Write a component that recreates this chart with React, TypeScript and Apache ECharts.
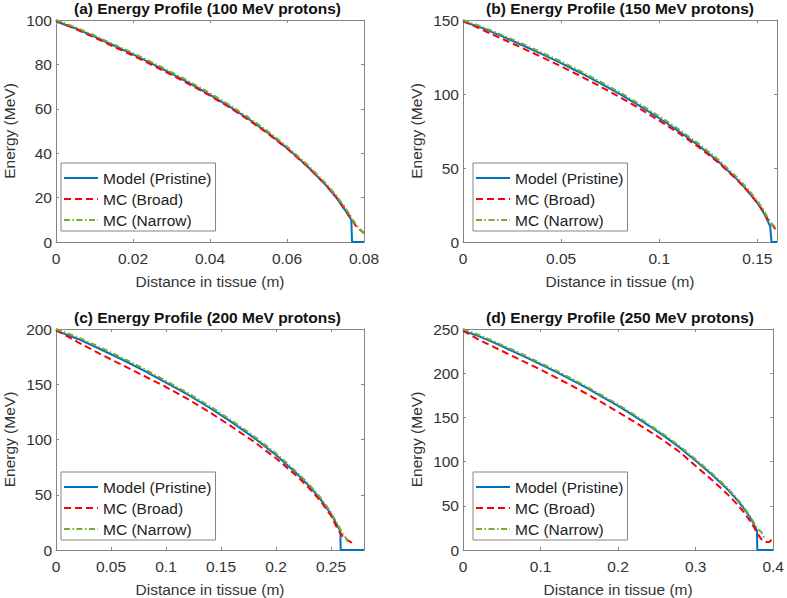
import React, { useEffect, useRef } from "react";
import * as echarts from "echarts";

const PANEL_TITLES = [
  "(a) Energy Profile (100 MeV protons)",
  "(b) Energy Profile (150 MeV protons)",
  "(c) Energy Profile (200 MeV protons)",
  "(d) Energy Profile (250 MeV protons)",
];
const SERIES_NAMES = ["Model (Pristine)", "MC (Broad)", "MC (Narrow)"];
const X_MAX = [0.08, 0.16, 0.28, 0.4];
const X_INTERVAL = [0.02, 0.05, 0.05, 0.1];
const Y_MAX = [100, 150, 200, 250];
const Y_INTERVAL = [20, 50, 50, 50];
const X_NAME = "Distance in tissue (m)";
const Y_NAME = "Energy (MeV)";

// (a) 100 MeV
const A_MODEL_X = [0, 0.005, 0.01, 0.015, 0.02, 0.025, 0.03, 0.035, 0.04, 0.045, 0.05, 0.055, 0.06, 0.065, 0.07, 0.073, 0.075, 0.0767, 0.0769, 0.08];
const A_MODEL_E = [99.3, 96.3, 92.5, 88.5, 84.5, 80.2, 75.8, 71.2, 66.3, 61.1, 55.4, 49.2, 42.3, 34.6, 25.8, 19.5, 14.5, 10.0, 0, 0];
const A_MC_X = [0, 0.005, 0.01, 0.015, 0.02, 0.025, 0.03, 0.035, 0.04, 0.045, 0.05, 0.055, 0.06, 0.065, 0.07, 0.073, 0.075, 0.0765, 0.078, 0.08];
const A_BROAD_E = [99.8, 96.0, 92.1, 88.0, 84.0, 79.7, 75.3, 70.7, 65.9, 60.7, 55.0, 48.9, 42.1, 34.5, 25.9, 19.9, 15.0, 11.0, 7.0, 4.0];
const A_NARROW_E = [100, 96.8, 93.0, 89.0, 85.1, 80.9, 76.5, 71.9, 67.0, 61.8, 56.1, 49.9, 43.0, 35.3, 26.6, 20.5, 15.7, 11.8, 7.5, 3.8];

// (b) 150 MeV
const B_MODEL_X = [0, 0.01, 0.02, 0.03, 0.04, 0.05, 0.06, 0.07, 0.08, 0.09, 0.1, 0.11, 0.12, 0.13, 0.14, 0.145, 0.15, 0.153, 0.155, 0.1565, 0.1572, 0.16];
const B_MODEL_E = [149, 144.5, 138.9, 133.1, 127.1, 120.9, 114.2, 107.2, 99.9, 92.0, 83.6, 74.8, 65.2, 54.5, 41.8, 34.5, 26.3, 20.2, 15.0, 10.5, 0, 0];
const B_MC_X = [0, 0.01, 0.02, 0.03, 0.04, 0.05, 0.06, 0.07, 0.08, 0.09, 0.1, 0.11, 0.12, 0.13, 0.14, 0.145, 0.15, 0.153, 0.155, 0.1575, 0.16];
const B_BROAD_E = [149.5, 143.2, 137.2, 131.2, 125.0, 118.7, 112.0, 105.0, 97.8, 90.2, 82.0, 73.5, 64.2, 53.8, 41.5, 34.5, 26.5, 21.0, 16.0, 11.5, 7.5];
const B_NARROW_E = [150, 145.3, 139.8, 134.1, 128.1, 122.0, 115.3, 108.3, 101.0, 93.2, 84.9, 76.1, 66.5, 55.8, 43.2, 36.0, 27.8, 21.8, 17.0, 12.0, 9.0];

// (c) 200 MeV
const C_MODEL_X = [0, 0.02, 0.04, 0.06, 0.08, 0.1, 0.12, 0.14, 0.16, 0.18, 0.2, 0.22, 0.23, 0.24, 0.25, 0.255, 0.2585, 0.2588, 0.28];
const C_MODEL_E = [198.5, 191, 181.9, 172.4, 162.4, 151.5, 140.5, 128.5, 115.5, 101.5, 86, 68, 58, 46.5, 32.5, 23.5, 17, 0, 0];
const C_BROAD_X = [0, 0.02, 0.04, 0.06, 0.08, 0.1, 0.12, 0.14, 0.16, 0.18, 0.2, 0.22, 0.23, 0.24, 0.25, 0.255, 0.26, 0.265, 0.27];
const C_BROAD_E = [199, 188, 177.5, 167.5, 157.5, 147.5, 136.5, 124.5, 111.5, 98, 83, 66, 56, 45, 31, 21, 13, 9, 6];
const C_NARROW_X = [0, 0.02, 0.04, 0.06, 0.08, 0.1, 0.12, 0.14, 0.16, 0.18, 0.2, 0.22, 0.23, 0.24, 0.25, 0.255, 0.26, 0.264, 0.266];
const C_NARROW_E = [200, 192.5, 183.5, 174, 164, 153, 142, 130, 117, 103, 87.5, 69.5, 59.5, 48, 34, 25, 16, 10, 6];

// (d) 250 MeV
const D_MODEL_X = [0, 0.02, 0.04, 0.06, 0.08, 0.1, 0.12, 0.14, 0.16, 0.18, 0.2, 0.22, 0.24, 0.26, 0.28, 0.3, 0.32, 0.34, 0.35, 0.36, 0.37, 0.375, 0.379, 0.3795, 0.4];
const D_MODEL_E = [248, 242, 234.5, 226.5, 218.5, 210, 201.5, 192.5, 183, 173, 163, 152, 140.5, 128.5, 115.5, 101, 86, 69.5, 60, 49.5, 37, 29, 22, 0, 0];
const D_BROAD_X = [0, 0.02, 0.04, 0.06, 0.08, 0.1, 0.12, 0.14, 0.16, 0.18, 0.2, 0.22, 0.24, 0.26, 0.28, 0.3, 0.32, 0.34, 0.35, 0.36, 0.37, 0.375, 0.38, 0.385, 0.39, 0.395, 0.4];
const D_BROAD_E = [248, 238, 229.5, 221, 212.5, 204, 195, 186, 176.5, 166.5, 156, 145.5, 134.5, 123, 110.5, 95, 80, 64, 55, 45, 33, 26, 18, 12, 9, 9, 14];
const D_NARROW_X = [0, 0.02, 0.04, 0.06, 0.08, 0.1, 0.12, 0.14, 0.16, 0.18, 0.2, 0.22, 0.24, 0.26, 0.28, 0.3, 0.32, 0.34, 0.35, 0.36, 0.37, 0.375, 0.38, 0.385, 0.388];
const D_NARROW_E = [250, 243.5, 236, 228, 220, 211.5, 203, 194, 184.5, 174.5, 164.5, 153.5, 142, 130, 117, 102.5, 87.5, 71, 61.5, 51, 38.5, 31, 24, 20, 14];

const PANELS = [
  { model: [A_MODEL_X, A_MODEL_E], broad: [A_MC_X, A_BROAD_E], narrow: [A_MC_X, A_NARROW_E] },
  { model: [B_MODEL_X, B_MODEL_E], broad: [B_MC_X, B_BROAD_E], narrow: [B_MC_X, B_NARROW_E] },
  { model: [C_MODEL_X, C_MODEL_E], broad: [C_BROAD_X, C_BROAD_E], narrow: [C_NARROW_X, C_NARROW_E] },
  { model: [D_MODEL_X, D_MODEL_E], broad: [D_BROAD_X, D_BROAD_E], narrow: [D_NARROW_X, D_NARROW_E] },
];

const GRIDS = [
  { left: 51, top: 20, width: 313, height: 222 },
  { left: 463, top: 20, width: 314, height: 222 },
  { left: 51, top: 329, width: 313, height: 222 },
  { left: 463, top: 329, width: 314, height: 222 },
];

const FONT = "'Liberation Sans', Arial, Helvetica, sans-serif";
const AXIS_COLOR = "#858585";
const LABEL_COLOR = "#333333";
const COLORS = ["#0072BD", "#FF0000", "#77AC30"];

function pairs(xs: number[], ys: number[]) {
  return xs.map((x, i) => [x, ys[i]]);
}

export default function App() {
  const ref = useRef<HTMLDivElement>(null);
  useEffect(() => {
    if (!ref.current) return;
    const chart = echarts.init(ref.current, null, { renderer: "svg" });

    const xAxis: any[] = [];
    const yAxis: any[] = [];
    const series: any[] = [];
    const legend: any[] = [];
    const graphic: any[] = [];

    GRIDS.forEach((g, i) => {
      const common = {
        gridIndex: i,
        type: "value",
        axisLine: { show: true, onZero: false, lineStyle: { color: AXIS_COLOR, width: 1 } },
        axisTick: { show: true, inside: true, length: 3, lineStyle: { color: AXIS_COLOR } },
        splitLine: { show: false },
      };
      xAxis.push({
        ...common,
        position: "bottom",
        min: 0,
        max: X_MAX[i],
        interval: X_INTERVAL[i],
        name: X_NAME,
        nameLocation: "middle",
        nameGap: 31,
        nameTextStyle: { fontFamily: FONT, fontSize: 15.5, color: LABEL_COLOR },
        axisLabel: {
          fontFamily: FONT,
          fontSize: 15.5,
          color: LABEL_COLOR,
          margin: 8,
          showMaxLabel: Math.abs((X_MAX[i] / X_INTERVAL[i]) - Math.round(X_MAX[i] / X_INTERVAL[i])) < 1e-9,
        },
      });
      xAxis.push({
        ...common,
        position: "top",
        min: 0,
        max: X_MAX[i],
        interval: X_INTERVAL[i],
        axisLabel: { show: false },
      });
      yAxis.push({
        ...common,
        position: "left",
        min: 0,
        max: Y_MAX[i],
        interval: Y_INTERVAL[i],
        name: Y_NAME,
        nameLocation: "middle",
        nameGap: 39,
        nameTextStyle: { fontFamily: FONT, fontSize: 15.5, color: LABEL_COLOR },
        axisLabel: { fontFamily: FONT, fontSize: 15.5, color: LABEL_COLOR, margin: 4 },
      });
      yAxis.push({
        ...common,
        position: "right",
        min: 0,
        max: Y_MAX[i],
        interval: Y_INTERVAL[i],
        axisLabel: { show: false },
      });

      const p = PANELS[i];
      const defs = [
        { data: p.model, type: "solid" },
        { data: p.broad, type: [7, 4] },
        { data: p.narrow, type: [6, 2.5, 1.5, 2.5] },
      ];
      defs.forEach((d, k) => {
        series.push({
          type: "line",
          name: SERIES_NAMES[k],
          xAxisIndex: i * 2,
          yAxisIndex: i * 2,
          data: pairs(d.data[0] as number[], d.data[1] as number[]),
          showSymbol: false,
          symbol: "none",
          clip: false,
          color: COLORS[k],
          lineStyle: { color: COLORS[k], width: 2, type: d.type },
          z: 3 + k,
        });
      });

      legend.push({
        data: SERIES_NAMES,
        orient: "vertical",
        left: g.left + 10,
        top: g.top + g.height - 79,
        itemWidth: 34,
        itemHeight: 16,
        itemGap: 5,
        padding: [7, 4, 3, 2],
        backgroundColor: "#ffffff",
        borderColor: AXIS_COLOR,
        borderWidth: 1,
        selectedMode: false,
        itemStyle: { opacity: 0 },
        textStyle: { fontFamily: FONT, fontSize: 15.5, color: "#222222", lineHeight: 16 },
      });

      graphic.push({
        type: "text",
        x: g.left + g.width / 2,
        y: g.top - 12,
        style: {
          text: PANEL_TITLES[i],
          font: `bold 15.5px ${FONT}`,
          fill: "#111111",
          textAlign: "center",
          textVerticalAlign: "middle",
        },
      });
    });

    chart.setOption({
      animation: false,
      backgroundColor: "#ffffff",
      grid: GRIDS.map((g) => ({ ...g, containLabel: false })),
      xAxis,
      yAxis,
      series,
      legend,
      graphic,
    });
    return () => chart.dispose();
  }, []);

  return (
    <div
      ref={ref}
      style={{ position: "fixed", left: 0, top: 0, width: 787, height: 598, background: "#fff" }}
    />
  );
}
